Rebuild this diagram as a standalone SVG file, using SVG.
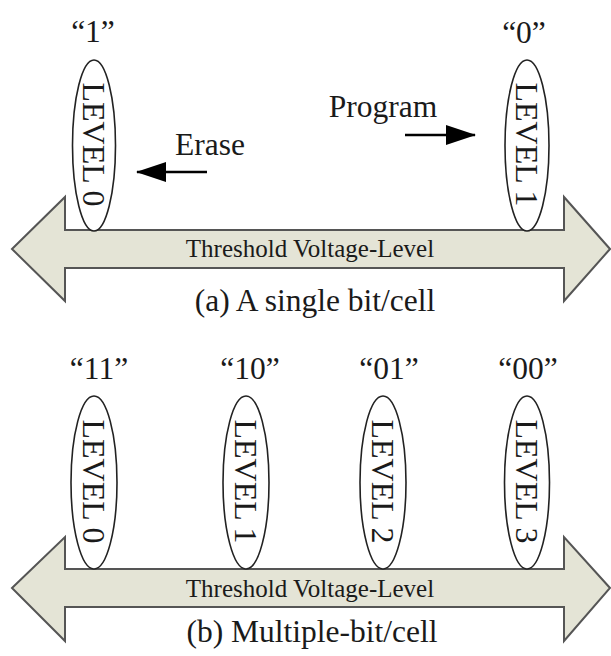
<svg xmlns="http://www.w3.org/2000/svg" width="611" height="656" viewBox="0 0 611 656">
<style>
text{font-family:"Liberation Serif","Times New Roman",serif;fill:#1a1a1a}
.lbl{font-size:31.5px;text-anchor:middle}
.lvl{font-size:31px;text-anchor:middle}
.thr{font-size:25px;text-anchor:middle}
.ell{fill:#ffffff;stroke:#222;stroke-width:1.6}
.bar{fill:#e4e4d6;stroke:#555;stroke-width:2;stroke-linejoin:miter}
.ar{stroke:#000;stroke-width:2.5;fill:none}
</style>
<defs>
<marker id="ah" markerWidth="30" markerHeight="20" refX="29" refY="10" orient="auto" markerUnits="userSpaceOnUse">
<polygon points="0,0 30,10 0,20" fill="#000"/>
</marker>
</defs>
<rect width="611" height="656" fill="#ffffff"/>

<g id="axis-a">
<polygon class="bar" points="12,249 65,197 65,230 564,230 564,197 610,249 564,301 564,268 65,268 65,301"/>
<text class="thr" x="310" y="257">Threshold Voltage-Level</text>
</g>
<g id="axis-b">
<polygon class="bar" points="12,588 65,537 65,569 564,569 564,537 610,588 564,641 564,607 65,607 65,641"/>
<text class="thr" x="310" y="597">Threshold Voltage-Level</text>
</g>

<g id="a-level0">
<ellipse class="ell" cx="94" cy="145.5" rx="21.5" ry="85.5"/>
<text class="lvl" transform="translate(83,144.5) rotate(90)" textLength="124" lengthAdjust="spacingAndGlyphs">LEVEL 0</text>
<text class="lbl" x="93" y="42">“1”</text>
</g>
<g id="a-level1">
<ellipse class="ell" cx="527" cy="145.5" rx="22" ry="85.5"/>
<text class="lvl" transform="translate(516,144.5) rotate(90)" textLength="124" lengthAdjust="spacingAndGlyphs">LEVEL 1</text>
<text class="lbl" x="524" y="43">“0”</text>
</g>

<g id="b-level0">
<ellipse class="ell" cx="94" cy="482.5" rx="23" ry="86.5"/>
<text class="lvl" transform="translate(83,481.5) rotate(90)" textLength="124" lengthAdjust="spacingAndGlyphs">LEVEL 0</text>
<text class="lbl" x="99" y="379">“11”</text>
</g>
<g id="b-level1">
<ellipse class="ell" cx="246" cy="482.5" rx="23" ry="86.5"/>
<text class="lvl" transform="translate(235,481.5) rotate(90)" textLength="124" lengthAdjust="spacingAndGlyphs">LEVEL 1</text>
<text class="lbl" x="250" y="379">“10”</text>
</g>
<g id="b-level2">
<ellipse class="ell" cx="383" cy="482.5" rx="23" ry="86.5"/>
<text class="lvl" transform="translate(372,481.5) rotate(90)" textLength="124" lengthAdjust="spacingAndGlyphs">LEVEL 2</text>
<text class="lbl" x="389" y="379">“01”</text>
</g>
<g id="b-level3">
<ellipse class="ell" cx="527" cy="482.5" rx="22.5" ry="86.5"/>
<text class="lvl" transform="translate(516,481.5) rotate(90)" textLength="124" lengthAdjust="spacingAndGlyphs">LEVEL 3</text>
<text class="lbl" x="528" y="379">“00”</text>
</g>

<g id="connectors">
<line class="ar" x1="207" y1="172" x2="137" y2="172" marker-end="url(#ah)"/>
<line class="ar" x1="405" y1="135" x2="475" y2="135" marker-end="url(#ah)"/>
</g>

<g id="labels">
<text class="lbl" x="210" y="155">Erase</text>
<text class="lbl" x="383" y="117">Program</text>
<text class="lbl" x="315" y="311">(a) A single bit/cell</text>
<text class="lbl" x="312" y="642">(b) Multiple-bit/cell</text>
</g>
</svg>
